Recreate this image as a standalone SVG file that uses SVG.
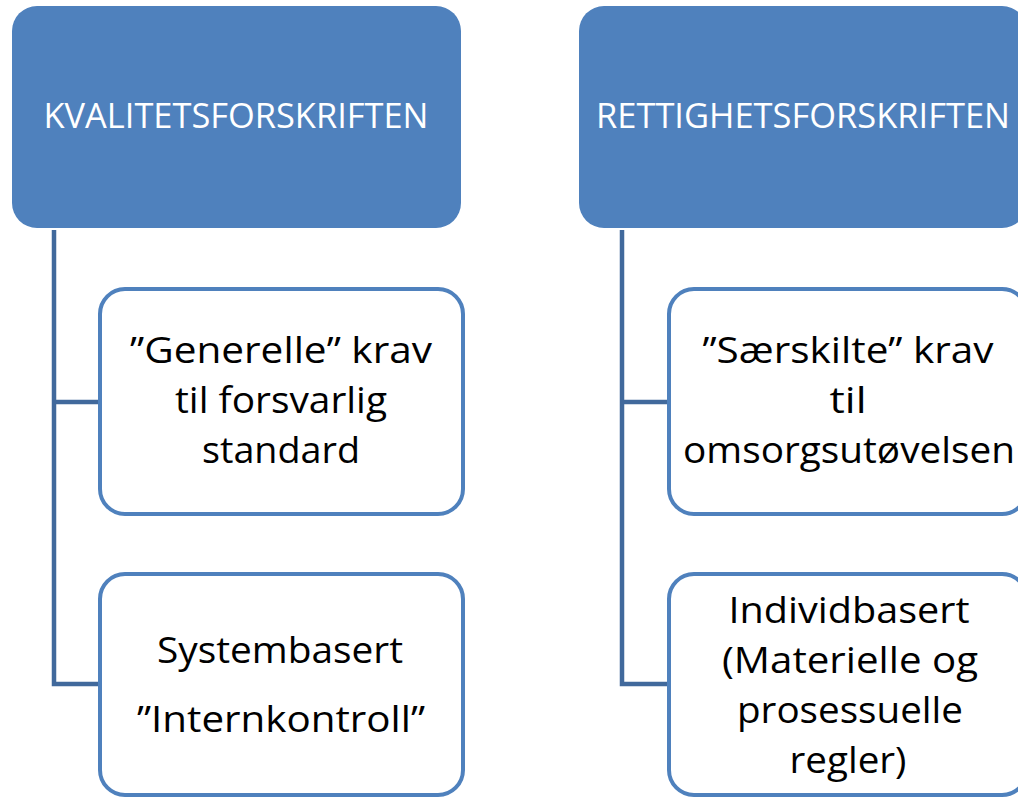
<svg xmlns="http://www.w3.org/2000/svg" width="1018" height="799" viewBox="0 0 1018 799">
<style>
.hdr{fill:#4F81BD;}
.box{fill:#FFFFFF;stroke:#4F81BD;stroke-width:4;}
.conn{fill:none;stroke:#41699C;stroke-width:4.5;}
.ht{font-family:"Open Sans","Liberation Sans",sans-serif;font-size:34px;fill:#FFFFFF;text-anchor:middle;}
.ct{font-family:"Open Sans","Liberation Sans",sans-serif;font-size:37px;fill:#000000;text-anchor:middle;}
</style>
<rect width="1018" height="799" fill="#FFFFFF"/>
<g id="connectors">
<path class="conn" d="M54,230 V684 H100 M54,402 H100"/>
<path class="conn" d="M622,230 V684 H669 M622,402 H669"/>
</g>
<g id="kvalitet">
<rect class="hdr" x="12" y="6" width="449" height="222" rx="25"/>
<text class="ht" x="236" y="128" textLength="385" lengthAdjust="spacingAndGlyphs">KVALITETSFORSKRIFTEN</text>
</g>
<g id="rettighet">
<rect class="hdr" x="579" y="6" width="448" height="222" rx="25"/>
<text class="ht" x="803" y="128" textLength="414" lengthAdjust="spacingAndGlyphs">RETTIGHETSFORSKRIFTEN</text>
</g>
<g id="generelle">
<rect class="box" x="100" y="289" width="363" height="225" rx="25"/>
<text class="ct" x="281" y="363" textLength="302" lengthAdjust="spacingAndGlyphs">”Generelle” krav</text>
<text class="ct" x="281" y="413" textLength="212" lengthAdjust="spacingAndGlyphs">til forsvarlig</text>
<text class="ct" x="281" y="463" textLength="158" lengthAdjust="spacingAndGlyphs">standard</text>
</g>
<g id="systembasert">
<rect class="box" x="100" y="574" width="363" height="221" rx="25"/>
<text class="ct" x="280" y="663" textLength="246" lengthAdjust="spacingAndGlyphs">Systembasert</text>
<text class="ct" x="281" y="732" textLength="288" lengthAdjust="spacingAndGlyphs">”Internkontroll”</text>
</g>
<g id="saerskilte">
<rect class="box" x="669" y="289" width="358" height="225" rx="25"/>
<text class="ct" x="848" y="363" textLength="291" lengthAdjust="spacingAndGlyphs">”Særskilte” krav</text>
<text class="ct" x="848" y="413" textLength="37" lengthAdjust="spacingAndGlyphs">til</text>
<text class="ct" x="849" y="463" textLength="332" lengthAdjust="spacingAndGlyphs">omsorgsutøvelsen</text>
</g>
<g id="individbasert">
<rect class="box" x="669" y="574" width="358" height="221" rx="25"/>
<text class="ct" x="849" y="623" textLength="241" lengthAdjust="spacingAndGlyphs">Individbasert</text>
<text class="ct" x="850" y="673" textLength="256" lengthAdjust="spacingAndGlyphs">(Materielle og</text>
<text class="ct" x="850" y="723" textLength="226" lengthAdjust="spacingAndGlyphs">prosessuelle</text>
<text class="ct" x="848" y="773" textLength="117" lengthAdjust="spacingAndGlyphs">regler)</text>
</g>
</svg>
